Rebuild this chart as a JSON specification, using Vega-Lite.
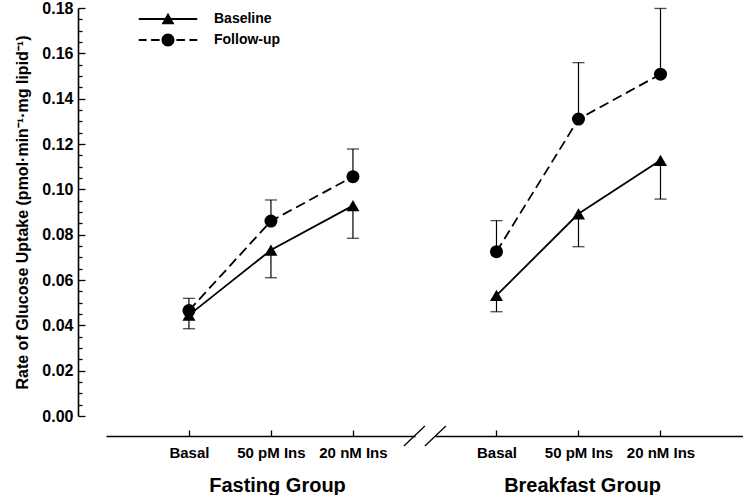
{
  "$schema": "https://vega.github.io/schema/vega-lite/v6.json",
  "padding": {"left": 14, "top": 0, "right": 0, "bottom": 0},
  "bounds": "flush",
  "spacing": 20,
  "config": {
    "view": {"stroke": null},
    "font": "Liberation Sans",
    "axis": {
      "grid": false,
      "domainColor": "black",
      "domainWidth": 1.6,
      "tickColor": "black",
      "tickWidth": 1.3,
      "labelColor": "black",
      "titleColor": "black",
      "labelFont": "Liberation Sans",
      "titleFont": "Liberation Sans",
      "labelFontWeight": "bold",
      "titleFontWeight": "bold"
    }
  },
  "datasets": {
    "fasting": [
      {"group": "Fasting Group", "condition": "Basal", "series": "Baseline", "value": 0.0445, "err": 0.0385},
      {"group": "Fasting Group", "condition": "50 pM Ins", "series": "Baseline", "value": 0.0732, "err": 0.061},
      {"group": "Fasting Group", "condition": "20 nM Ins", "series": "Baseline", "value": 0.0928, "err": 0.0784},
      {"group": "Fasting Group", "condition": "Basal", "series": "Follow-up", "value": 0.0465, "err": 0.0519},
      {"group": "Fasting Group", "condition": "50 pM Ins", "series": "Follow-up", "value": 0.086, "err": 0.0953},
      {"group": "Fasting Group", "condition": "20 nM Ins", "series": "Follow-up", "value": 0.1056, "err": 0.1178}
    ],
    "breakfast": [
      {"group": "Breakfast Group", "condition": "Basal", "series": "Baseline", "value": 0.0532, "err": 0.046},
      {"group": "Breakfast Group", "condition": "50 pM Ins", "series": "Baseline", "value": 0.0892, "err": 0.0747},
      {"group": "Breakfast Group", "condition": "20 nM Ins", "series": "Baseline", "value": 0.1128, "err": 0.0957},
      {"group": "Breakfast Group", "condition": "Basal", "series": "Follow-up", "value": 0.0725, "err": 0.0862},
      {"group": "Breakfast Group", "condition": "50 pM Ins", "series": "Follow-up", "value": 0.131, "err": 0.1559},
      {"group": "Breakfast Group", "condition": "20 nM Ins", "series": "Follow-up", "value": 0.1508, "err": 0.1798}
    ],
    "breaks": [
      {"bx": 0.964, "bx2": 1.032, "by": -0.0132, "by2": -0.0044},
      {"bx": 1.032, "bx2": 1.1, "by": -0.0132, "by2": -0.0044}
    ]
  },
  "resolve": {
    "scale": {"shape": "independent"},
    "legend": {"shape": "independent"}
  },
  "hconcat": [
    {
      "width": 309,
      "height": 408,
      "layer": [
        {
          "data": {"name": "fasting"},
          "encoding": {
            "x": {
              "field": "condition", "type": "nominal",
              "sort": ["Basal", "50 pM Ins", "20 nM Ins"],
              "scale": {"type": "point", "domain": ["Basal", "50 pM Ins", "20 nM Ins"], "padding": 0.884, "align": 0.572},
              "axis": {
                "title": "Fasting Group", "offset": 20, "tickSize": -6, "labelAngle": 0,
                "labelFontSize": 15, "labelPadding": 15, "titleFontSize": 20,
                "titleX": 171, "titleY": 55, "titleBaseline": "alphabetic"
              }
            },
            "y": {
              "field": "value", "type": "quantitative",
              "scale": {"domain": [0, 0.18], "nice": false, "zero": false},
              "axis": {
                "title": "Rate of Glucose Uptake (pmol·min⁻¹·mg lipid⁻¹)",
                "orient": "left",
                "offset": 28,
                "values": [0, 0.02, 0.04, 0.06, 0.08, 0.1, 0.12, 0.14, 0.16, 0.18],
                "format": ".2f",
                "tickSize": -7,
                "labelFontSize": 16,
                "labelPadding": 12,
                "titleFontSize": 16,
                "titleX": -51,
                "titleBaseline": "alphabetic"
              }
            }
          },
          "layer": [
            {
              "transform": [{"filter": "datum.series === 'Baseline'"}],
              "mark": {"type": "line", "color": "black", "strokeWidth": 1.8}
            },
            {
              "transform": [{"filter": "datum.series === 'Follow-up'"}],
              "mark": {"type": "line", "color": "black", "strokeWidth": 1.8, "strokeDash": [10, 5]}
            },
            {
              "mark": {"type": "rule", "color": "black", "strokeWidth": 1.2},
              "encoding": {
                "y2": {"field": "err"}
              }
            },
            {
              "mark": {"type": "tick", "color": "black", "thickness": 1.3, "size": 12, "orient": "horizontal"},
              "encoding": {
                "y": {"field": "err", "type": "quantitative"}
              }
            },
            {
              "transform": [{"filter": "datum.series === 'Baseline'"}],
              "mark": {"type": "point", "shape": "triangle-up", "filled": true, "color": "black", "size": 169, "opacity": 1}
            },
            {
              "transform": [{"filter": "datum.series === 'Follow-up'"}],
              "mark": {"type": "point", "shape": "circle", "filled": true, "color": "black", "size": 169, "opacity": 1}
            },
            {
              "mark": {"type": "point", "filled": true, "fill": "black", "size": 169, "opacity": 0},
              "encoding": {
                "shape": {
                  "field": "series", "type": "nominal",
                  "scale": {
                    "domain": ["Baseline", "Follow-up"],
                    "range": [
                      "M-4.5,-0.14H4.5V0.14H-4.5ZM0,-0.95L1,0.8L-1,0.8Z",
                      "M-4.5,-0.14H-3.3V0.14H-4.5ZM-2.6,-0.14H-1.3V0.14H-2.6ZM1.3,-0.14H2.6V0.14H1.3ZM3.3,-0.14H4.5V0.14H3.3ZM1,0A1,1 0 1,1 -1,0A1,1 0 1,1 1,0Z"
                    ]
                  },
                  "legend": {
                    "title": null, "orient": "none", "legendX": 55, "legendY": 4,
                    "symbolSize": 169, "symbolStrokeWidth": 0,
                    "symbolFillColor": "black", "symbolOpacity": 1,
                    "labelFontSize": 14, "labelFont": "Liberation Sans", "labelFontWeight": "bold",
                    "labelColor": "black", "labelOffset": 39, "rowPadding": 7, "padding": 0
                  }
                }
              }
            }
          ]
        },
        {
          "data": {"name": "breaks"},
          "mark": {"type": "rule", "color": "black", "strokeWidth": 1.3},
          "encoding": {
            "x": {"field": "bx", "type": "quantitative", "scale": {"domain": [0, 1], "nice": false, "zero": false}, "axis": null},
            "x2": {"field": "bx2"},
            "y": {
              "field": "by", "type": "quantitative",
              "scale": {"domain": [0, 0.18], "nice": false, "zero": false},
              "axis": {
                "orient": "left", "offset": 28, "title": null, "labels": false, "domain": false,
                "tickSize": -4,
                "values": [0.005,0.01,0.015,0.025,0.03,0.035,0.045,0.05,0.055,0.065,0.07,0.075,0.085,0.09,0.095,0.105,0.11,0.115,0.125,0.13,0.135,0.145,0.15,0.155,0.165,0.17,0.175]
              }
            },
            "y2": {"field": "by2"}
          }
        }
      ],
      "resolve": {"scale": {"x": "independent"}, "axis": {"x": "independent", "y": "independent"}}
    },
    {
      "width": 308,
      "height": 408,
      "data": {"name": "breakfast"},
      "encoding": {
        "x": {
          "field": "condition", "type": "nominal",
          "sort": ["Basal", "50 pM Ins", "20 nM Ins"],
          "scale": {"type": "point", "domain": ["Basal", "50 pM Ins", "20 nM Ins"], "padding": 0.878, "align": 0.427},
          "axis": {
            "title": "Breakfast Group", "offset": 20, "tickSize": -6, "labelAngle": 0,
            "labelFontSize": 15, "labelPadding": 15, "titleFontSize": 20,
            "titleX": 147, "titleY": 55, "titleBaseline": "alphabetic"
          }
        },
        "y": {"field": "value", "type": "quantitative", "scale": {"domain": [0, 0.18], "nice": false, "zero": false}, "axis": null}
      },
      "layer": [
        {
          "transform": [{"filter": "datum.series === 'Baseline'"}],
          "mark": {"type": "line", "color": "black", "strokeWidth": 1.8}
        },
        {
          "transform": [{"filter": "datum.series === 'Follow-up'"}],
          "mark": {"type": "line", "color": "black", "strokeWidth": 1.8, "strokeDash": [10, 5]}
        },
        {
          "mark": {"type": "rule", "color": "black", "strokeWidth": 1.2},
          "encoding": {
            "y2": {"field": "err"}
          }
        },
        {
          "mark": {"type": "tick", "color": "black", "thickness": 1.3, "size": 12, "orient": "horizontal"},
          "encoding": {
            "y": {"field": "err", "type": "quantitative", "axis": null}
          }
        },
        {
          "transform": [{"filter": "datum.series === 'Baseline'"}],
          "mark": {"type": "point", "shape": "triangle-up", "filled": true, "color": "black", "size": 169, "opacity": 1}
        },
        {
          "transform": [{"filter": "datum.series === 'Follow-up'"}],
          "mark": {"type": "point", "shape": "circle", "filled": true, "color": "black", "size": 169, "opacity": 1}
        }
      ]
    }
  ]
}
